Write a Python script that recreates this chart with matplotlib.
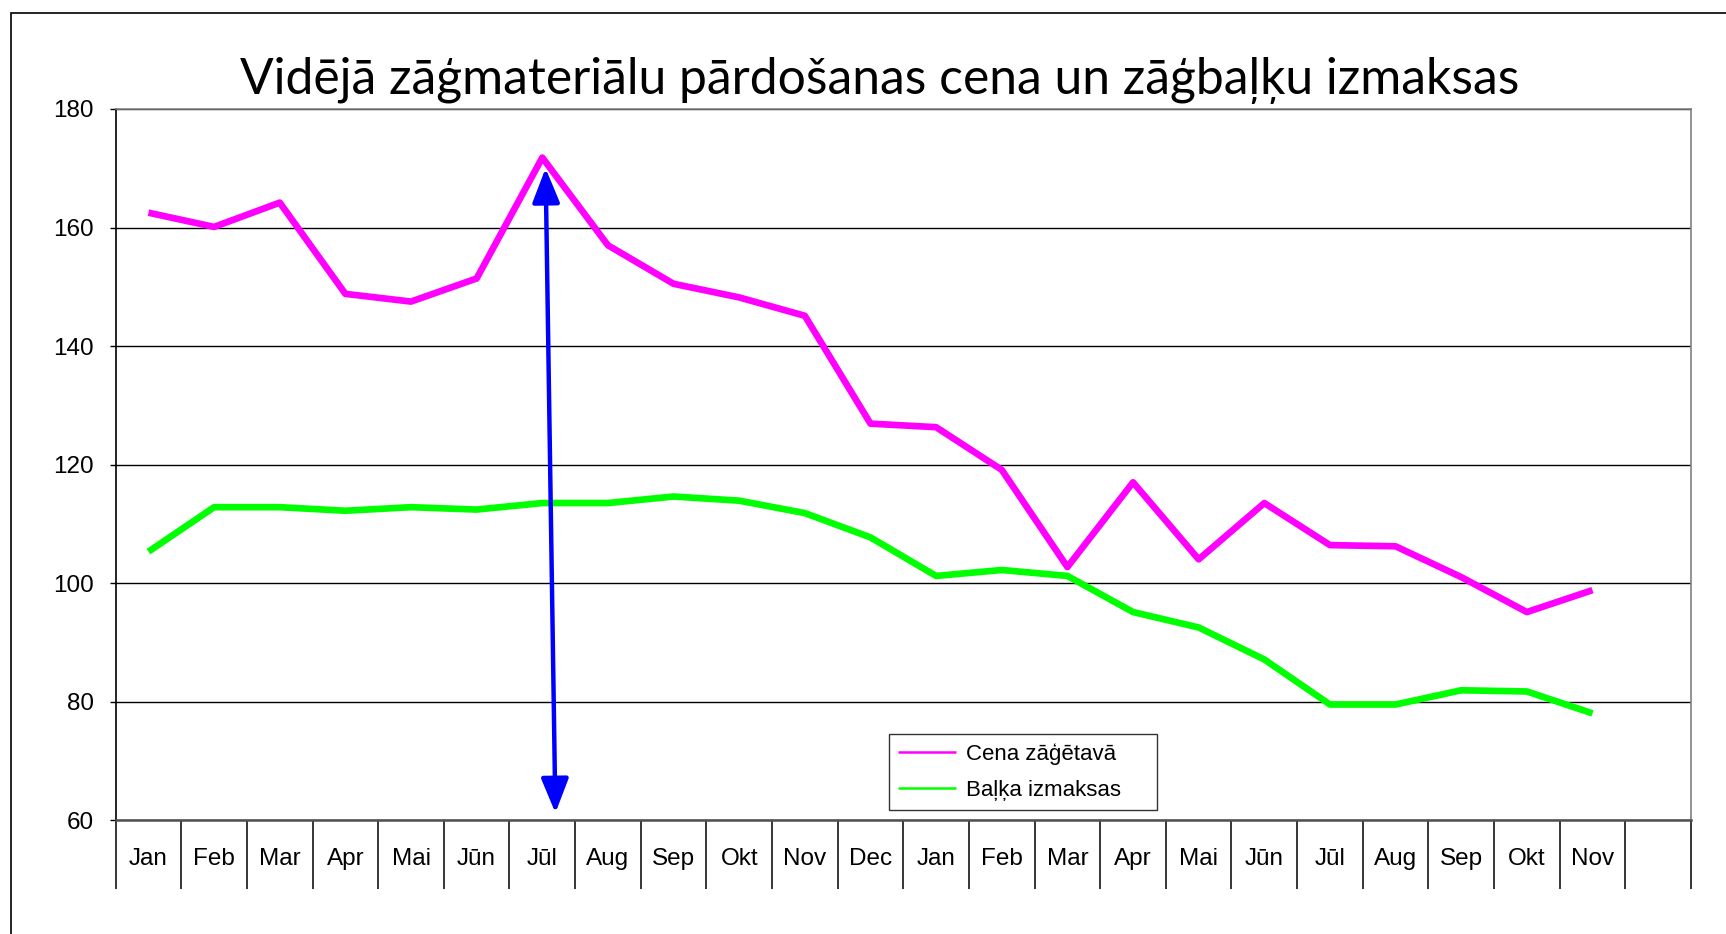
import matplotlib.pyplot as plt
import numpy as np
from matplotlib.patches import Rectangle, FancyArrowPatch

# mēneši (2 gadi) + viena tukša kategorija beigās
menesi = ["Jan", "Feb", "Mar", "Apr", "Mai", "Jūn", "Jūl", "Aug", "Sep", "Okt", "Nov", "Dec",
          "Jan", "Feb", "Mar", "Apr", "Mai", "Jūn", "Jūl", "Aug", "Sep", "Okt", "Nov"]
n_kategorijas = 24

cena_zagetava = [162.5, 160.1, 164.2, 148.8, 147.5, 151.4, 171.8, 157.0, 150.5, 148.2, 145.1, 126.9,
                 126.3, 119.1, 102.7, 117.0, 104.0, 113.5, 106.4, 106.2, 101.0, 95.1, 98.8]
balka_izmaksas = [105.3, 112.8, 112.8, 112.2, 112.8, 112.4, 113.5, 113.5, 114.6, 113.9, 111.8, 107.7,
                  101.2, 102.2, 101.2, 95.1, 92.5, 87.1, 79.5, 79.5, 81.9, 81.7, 78.0]

# bulta no Jūl maksimuma līdz apakšai
bulta_sakums = (6.05, 170.0)
bulta_beigas = (6.20, 61.2)

fig = plt.figure(figsize=(17.26, 9.34), dpi=100)
ax = fig.add_axes([0.067, 0.122, 0.9127, 0.7613])

x = np.arange(len(menesi))
ax.plot(x, cena_zagetava, color="#FF00FF", lw=4.8, solid_joinstyle="round",
        solid_capstyle="butt", label="Cena zāģētavā", zorder=3)
ax.plot(x, balka_izmaksas, color="#00FF00", lw=4.8, solid_joinstyle="round",
        solid_capstyle="butt", label="Baļķa izmaksas", zorder=3)

bulta = FancyArrowPatch(bulta_sakums, bulta_beigas,
                        arrowstyle="<|-|>,head_length=1.0,head_width=0.4",
                        mutation_scale=21, color="#0000FF", lw=3.2, zorder=4,
                        shrinkA=0, shrinkB=0)
ax.add_patch(bulta)

ax.set_xlim(-0.5, n_kategorijas - 0.5)
ax.set_ylim(60, 180)
ax.set_yticks(np.arange(60, 181, 20))
ax.yaxis.grid(True, color="black", lw=1.0)
ax.set_axisbelow(True)

ax.set_xticks(x)
ax.set_xticklabels(menesi, fontsize=17.5, family="Liberation Sans")
ax.set_xticks(np.arange(-0.5, n_kategorijas, 1), minor=True)
ax.tick_params(axis="x", which="major", length=0, pad=20)
ax.tick_params(axis="x", which="minor", length=50, width=1.1, color="black")
ax.tick_params(axis="y", length=4.5, width=1.0, pad=11, labelsize=17.5)
for lbl in ax.get_yticklabels():
    lbl.set_family("Liberation Sans")

ax.spines["left"].set_color("black")
ax.spines["left"].set_linewidth(1.2)
ax.spines["bottom"].set_color("#505050")
ax.spines["bottom"].set_linewidth(1.8)
ax.spines["top"].set_color("#808080")
ax.spines["right"].set_color("#808080")
ax.spines["top"].set_linewidth(1.2)
ax.spines["right"].set_linewidth(1.2)

leg = ax.legend(loc="lower left", bbox_to_anchor=(0.491, 0.014, 0.170, 0.104), mode="expand",
                borderaxespad=0, prop={"family": "Liberation Sans", "size": 16}, frameon=True,
                fancybox=False, edgecolor="black", handlelength=2.6, handletextpad=0.45,
                borderpad=0.4, labelspacing=0.7)
leg.get_frame().set_linewidth(1.0)
for line in leg.get_lines():
    line.set_linewidth(1.8)

fig.text(880 / 1726, 1 - 80 / 934, "Vidējā zāģmateriālu pārdošanas cena un zāģbaļķu izmaksas",
         ha="center", va="center", fontsize=35.8, family="Lato")

# ārējais rāmis
fig.patches.append(Rectangle((10.5 / 1726, -0.1), 1.2, 1.1 - 13 / 934,
                             transform=fig.transFigure, fill=False, edgecolor="black", lw=1.2))

fig.savefig("out.png", dpi=100)
